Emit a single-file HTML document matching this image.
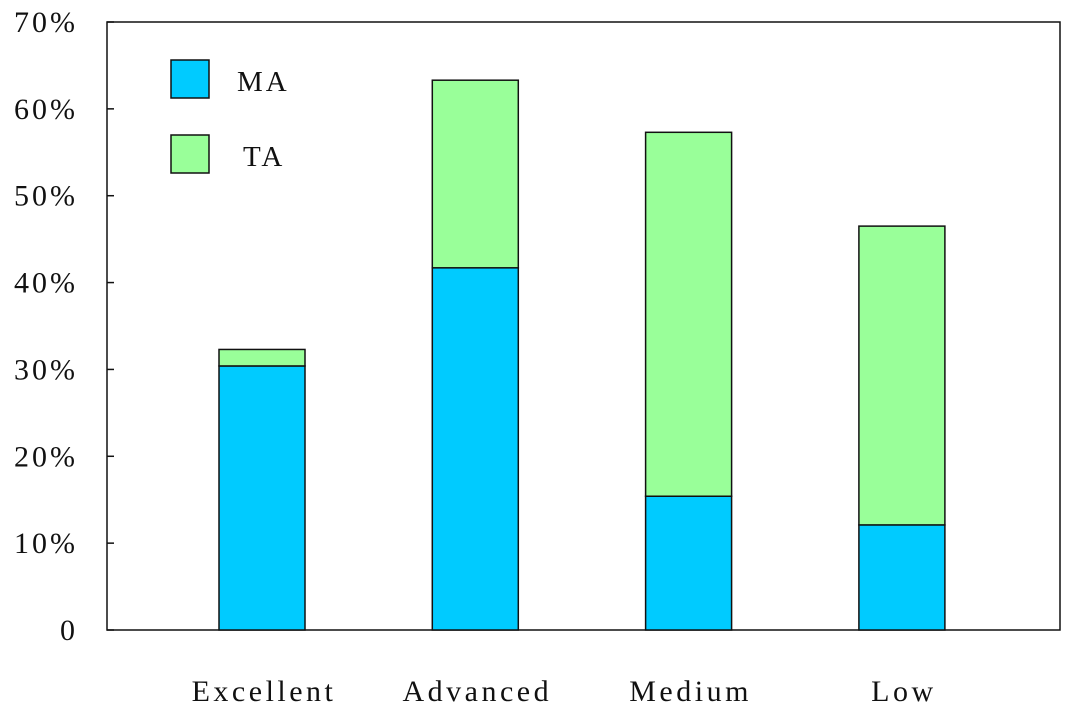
<!DOCTYPE html>
<html><head><meta charset="utf-8"><style>
html,body{margin:0;padding:0;background:#fff;}
svg text{font-family:"Liberation Serif",serif;fill:#111;}
</style></head><body>
<svg id="chart" width="1084" height="713" xmlns="http://www.w3.org/2000/svg">
<rect x="107" y="22" width="953" height="608" fill="none" stroke="#111" stroke-width="1.5"/>
<g id="yaxis"></g>
<g id="bars"></g>
<g id="xaxis"></g>
<g>
<rect x="171" y="60" width="38" height="38" fill="#00cbff" stroke="#111" stroke-width="1.5"/>
<text x="237" y="91" font-size="29" letter-spacing="3">MA</text>
<rect x="171" y="135" width="38" height="38" fill="#99ff99" stroke="#111" stroke-width="1.5"/>
<text x="243" y="166" font-size="29" letter-spacing="3">TA</text>
</g>
</svg>
<script>
const categories = ["Excellent","Advanced","Medium","Low"];
const maValues = [30.4, 41.7, 15.4, 12.1];
const taValues = [1.9, 21.6, 41.9, 34.4];
const yTicks = [0,10,20,30,40,50,60,70];
const yTickLabels = ["0","10%","20%","30%","40%","50%","60%","70%"];

const NS="http://www.w3.org/2000/svg";
const y = v => 630 - v*(608/70);
const xc = i => 262 + i*213.3;
const bw = 86;
function mk(tag, attrs, parent){const e=document.createElementNS(NS,tag);for(const k in attrs)e.setAttribute(k,attrs[k]);parent.appendChild(e);return e;}
const ya=document.getElementById('yaxis'), ba=document.getElementById('bars'), xa=document.getElementById('xaxis');
yTicks.forEach((t,i)=>{
  const l=mk('line',{x1:107,x2:114,y1:y(t),y2:y(t),stroke:'#111','stroke-width':1.5},ya);
  
  
  const tx=mk('text',{x:78,y:y(t)+10,'text-anchor':'end','font-size':30,'letter-spacing':3},ya);
  tx.textContent=yTickLabels[i];
  
  
});
categories.forEach((c,i)=>{
  const r1=mk('rect',{x:xc(i)-bw/2,y:y(maValues[i]),width:bw,height:y(0)-y(maValues[i]),fill:'#00cbff',stroke:'#111','stroke-width':1.5},ba);
  
  
  const top=maValues[i]+taValues[i];
  const r2=mk('rect',{x:xc(i)-bw/2,y:y(top),width:bw,height:y(maValues[i])-y(top),fill:'#99ff99',stroke:'#111','stroke-width':1.5},ba);
  
  
  const t=mk('text',{x:xc(i)+2,y:701,'text-anchor':'middle','font-size':30,'letter-spacing':3.5},xa);
  t.textContent=c;
  
  
});
</script>
</body></html>
